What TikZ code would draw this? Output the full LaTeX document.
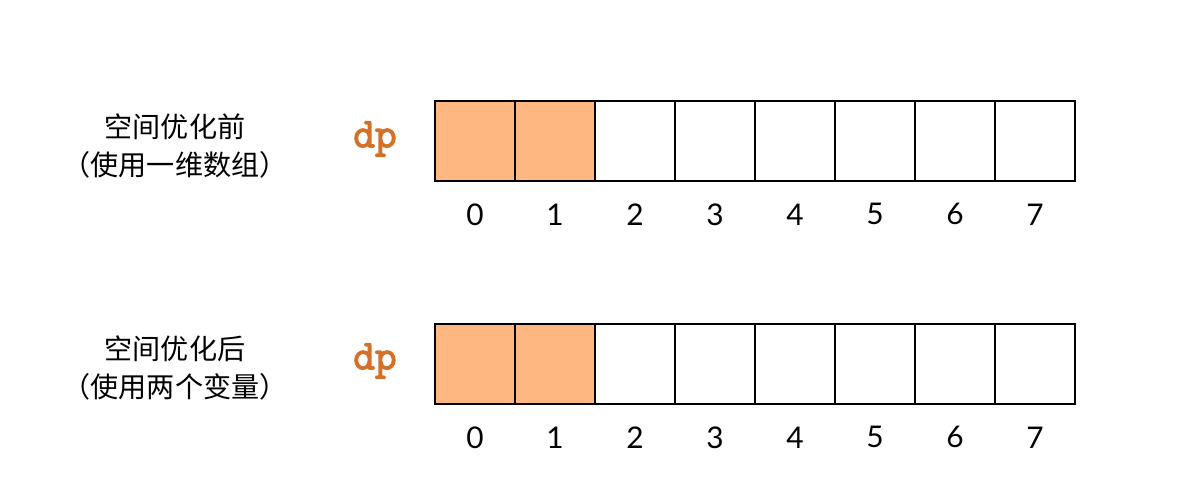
\documentclass[tikz,border=0pt]{standalone}
\usepackage{fontspec}
\setmainfont{Lato}
\newfontfamily\cjkfont{Noto Sans CJK SC}
\newfontfamily\dpfont{Latin Modern Mono}[FakeBold=3]
\usetikzlibrary{positioning}
\definecolor{dporange}{HTML}{D2722A}
\definecolor{cellfill}{HTML}{FFB781}

\begin{document}
\begin{tikzpicture}[x=0.02cm,y=-0.02cm,every node/.style={font=\fontsize{17}{20}\selectfont},
  cellbox/.style={draw=black,line width=1.1pt,minimum width=80*0.02cm,minimum height=80*0.02cm,inner sep=0pt,outer sep=0pt},
  idx/.style={font=\fontsize{17}{20}\selectfont},
  dplabel/.style={font=\dpfont\fontsize{24}{24}\selectfont,text=dporange},
  caption/.style={align=center,font=\cjkfont\fontsize{16}{22}\selectfont}]
\useasboundingbox (0,0) rectangle (1200,500);
% top row: before space optimization
\node[caption] (capA) at (175,146) {空间优化前\\（使用一维数组）};
\node[dplabel] (dpA) at (375,139) {dp};
\foreach \i in {0,...,7}{
  \ifnum\i<2 \def\fc{cellfill}\else \def\fc{white}\fi
  \node[cellbox,fill=\fc] (a\i) at (475+80*\i,141) {};
  \node[idx,below=19pt of a\i.south,anchor=center] (ai\i) {\i};
}
% bottom row: after space optimization
\node[caption] (capB) at (175,368) {空间优化后\\（使用两个变量）};
\node[dplabel] (dpB) at (375,361) {dp};
\foreach \i in {0,...,7}{
  \ifnum\i<2 \def\fc{cellfill}\else \def\fc{white}\fi
  \node[cellbox,fill=\fc] (b\i) at (475+80*\i,364) {};
  \node[idx,below=19pt of b\i.south,anchor=center] (bi\i) {\i};
}
\end{tikzpicture}
\end{document}
